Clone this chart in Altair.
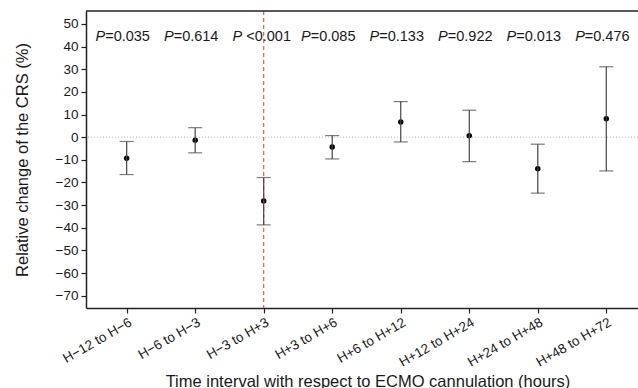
import altair as alt
import pandas as pd

intervals = ["H\u221212 to H\u22126", "H\u22126 to H\u22123", "H\u22123 to H+3", "H+3 to H+6",
             "H+6 to H+12", "H+12 to H+24", "H+24 to H+48", "H+48 to H+72"]
means = [-9.3, -1.3, -28.2, -4.3, 6.75, 0.6, -13.9, 8.1]
lowers = [-16.5, -6.9, -38.7, -9.6, -2.1, -10.8, -24.7, -14.9]
uppers = [-1.9, 4.2, -17.8, 0.7, 15.7, 11.9, -3.1, 31.1]
p_texts = ["=0.035", "=0.614", "<0.001", "=0.085", "=0.133", "=0.922", "=0.013", "=0.476"]
y_ticks = [-70, -60, -50, -40, -30, -20, -10, 0, 10, 20, 30, 40, 50]
cannulation = "H\u22123 to H+3"

df = pd.DataFrame({"interval": intervals, "mean": means, "lo": lowers, "hi": uppers,
                   "pt": p_texts, "P": ["P"] * len(intervals)})

FONT = "Liberation Sans"
W, H = 552, 297
ydom = [-75.4, 55.7]

xscale = alt.Scale(type="point", domain=intervals, padding=0.528, align=0.562)
yscale = alt.Scale(domain=ydom, nice=False, zero=False)

xaxis = alt.Axis(title="Time interval with respect to ECMO cannulation (hours)",
                 labelAngle=330, labelAlign="right", labelBaseline="top",
                 labelPadding=2, tickSize=5, titleX=281.5, titleY=78,
                 titleAlign="center", titleBaseline="alphabetic", grid=False)
yaxis = alt.Axis(title="Relative change of the CRS (%)", values=y_ticks,
                 labelExpr="replace(format(datum.value, 'd'), '-', '\u2212')",
                 tickSize=5, labelPadding=3, titleX=-59, titleY=H / 2,
                 titleAngle=270, titleAlign="center", titleBaseline="alphabetic",
                 grid=False)


def X():
    return alt.X("interval:N", scale=xscale, sort=intervals, axis=xaxis)


def Y(field):
    return alt.Y(field, scale=yscale, axis=yaxis)


base = alt.Chart(df)

pts = base.mark_circle(color="black", size=30, opacity=1).encode(x=X(), y=Y("mean:Q"))

zero = alt.Chart(pd.DataFrame({"z": [0]})).mark_rule(
    color="#bdbdbd", strokeDash=[1, 2], strokeWidth=1).encode(y=Y("z:Q"))

vline = alt.Chart(pd.DataFrame({"interval": [cannulation]})).mark_rule(
    color="#f04a40", strokeDash=[4, 3], strokeWidth=1.1).encode(x=X())

topline = alt.Chart(pd.DataFrame({"t": [ydom[1]]})).mark_rule(
    color="#222222", strokeWidth=1.5).encode(y=Y("t:Q"))

bars = base.mark_rule(color="#454545", strokeWidth=1.2).encode(
    x=X(), y=Y("lo:Q"), y2="hi:Q")
cap_lo = base.mark_tick(color="#454545", thickness=1.2, size=14, orient="horizontal").encode(
    x=X(), y=Y("lo:Q"))
cap_hi = base.mark_tick(color="#454545", thickness=1.2, size=14, orient="horizontal").encode(
    x=X(), y=Y("hi:Q"))

ptxt_P = base.mark_text(font=FONT, fontSize=14.5, fontStyle="italic", align="right",
                        baseline="alphabetic", dx=-21.5, color="#1a1a1a").encode(
    x=X(), y=alt.value(29.7), text="P:N")
ptxt_eq = base.transform_filter("indexof(datum.pt, '<') < 0").mark_text(
    font=FONT, fontSize=14.5, align="left", baseline="alphabetic", dx=-21.5,
    color="#1a1a1a").encode(x=X(), y=alt.value(29.7), text="pt:N")
ptxt_lt = base.transform_filter("indexof(datum.pt, '<') >= 0").mark_text(
    font=FONT, fontSize=14.5, align="left", baseline="alphabetic", dx=-17.5,
    color="#1a1a1a").encode(x=X(), y=alt.value(29.7), text="pt:N")

chart = alt.layer(pts, zero, vline, topline, bars, cap_lo, cap_hi,
                  ptxt_P, ptxt_eq, ptxt_lt).properties(
    width=W, height=H,
    background="white",
    autosize=alt.AutoSizeParams(type="none"),
    padding={"left": 86, "top": 11, "right": 0, "bottom": 80},
).configure_view(stroke=None).configure_axis(
    grid=False, domainColor="#222222", domainWidth=1.5, tickColor="#222222", tickWidth=1.2,
    labelFont=FONT, labelFontSize=13.5, labelColor="#1a1a1a",
    titleFont=FONT, titleFontSize=16.5, titleColor="#1a1a1a", titleFontWeight="normal",
)

chart.save("out.html", embed_options={"renderer": "svg", "actions": False})
